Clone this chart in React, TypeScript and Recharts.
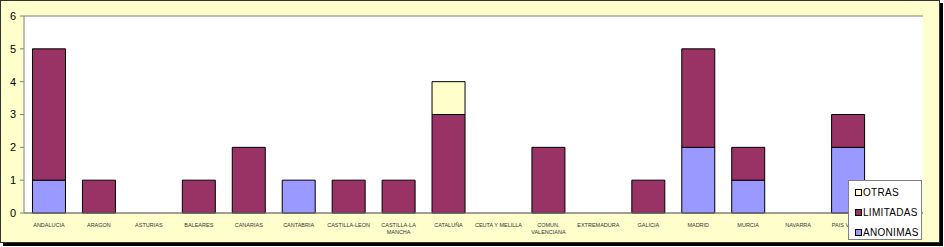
import React from "react";
import { BarChart, Bar, XAxis, YAxis, CartesianGrid, Legend } from "recharts";

const categories = [
  "ANDALUCIA", "ARAGON", "ASTURIAS", "BALEARES", "CANARIAS", "CANTABRIA",
  "CASTILLA-LEON", "CASTILLA-LA MANCHA", "CATALUÑA", "CEUTA Y MELILLA",
  "COMUN. VALENCIANA", "EXTREMADURA", "GALICIA", "MADRID", "MURCIA",
  "NAVARRA", "PAIS VASCO", "RIOJA",
];
const tickLabels = [
  ["ANDALUCIA"], ["ARAGON"], ["ASTURIAS"], ["BALEARES"], ["CANARIAS"], ["CANTABRIA"],
  ["CASTILLA-LEON"], ["CASTILLA-LA", "MANCHA"], ["CATALUÑA"], ["CEUTA Y MELILLA"],
  ["COMUN.", "VALENCIANA"], ["EXTREMADURA"], ["GALICIA"], ["MADRID"], ["MURCIA"],
  ["NAVARRA"], ["PAIS VASCO"], ["RIOJA"],
];
const anonimas = [1, 0, 0, 0, 0, 1, 0, 0, 0, 0, 0, 0, 0, 2, 1, 0, 2, 0];
const limitadas = [4, 1, 0, 1, 2, 0, 1, 1, 3, 0, 2, 0, 1, 3, 1, 0, 1, 0];
const otras = [0, 0, 0, 0, 0, 0, 0, 0, 1, 0, 0, 0, 0, 0, 0, 0, 0, 0];
const yTicks = [0, 1, 2, 3, 4, 5, 6];

const data = categories.map((c, i) => ({
  name: c,
  ANONIMAS: anonimas[i],
  LIMITADAS: limitadas[i],
  OTRAS: otras[i],
}));

const COLORS = { ANONIMAS: "#9999FF", LIMITADAS: "#993366", OTRAS: "#FFFFCC" };

const XTick = (props: any) => {
  const { x, y, index } = props;
  const lines = tickLabels[index] || [String(props.payload.value)];
  return (
    <g>
      {lines.map((l: string, k: number) => (
        <text
          key={k}
          x={x}
          y={y + 6 + k * 7}
          textAnchor="middle"
          fontSize={5.5}
          fontFamily="Arial, 'Liberation Sans', sans-serif"
          fill="#333"
        >
          {l}
        </text>
      ))}
    </g>
  );
};

const renderLegend = () => {
  const items = ["OTRAS", "LIMITADAS", "ANONIMAS"] as const;
  return (
    <div style={{ position: "relative", width: 0, height: 0, overflow: "visible" }}>
      <div
        style={{
          position: "absolute",
          left: 0,
          top: 0,
          width: 74,
          height: 60,
          boxSizing: "border-box",
          background: "#fff",
          border: "1px solid #808080",
          paddingTop: 1,
          fontFamily: "Arial, 'Liberation Sans', sans-serif",
          fontSize: 10,
          color: "#000",
        }}
      >
        {items.map((k) => (
          <div key={k} style={{ display: "flex", alignItems: "center", height: 20, paddingLeft: 6 }}>
            <span
              style={{
                display: "inline-block",
                width: 5,
                height: 5,
                background: COLORS[k],
                border: "1px solid #000",
                marginRight: 1,
              }}
            />
            <span style={{ letterSpacing: 0.3 }}>{k}</span>
          </div>
        ))}
      </div>
    </div>
  );
};

export default function App() {
  return (
    <div style={{ position: "absolute", left: 0, top: 0, width: 944, height: 247 }}>
      <div
        style={{
          position: "absolute",
          left: 0,
          top: 0,
          width: 940,
          height: 243,
          boxSizing: "border-box",
          background: "#FFFFCC",
          border: "1px solid #333",
          boxShadow: "3px 3px 0 #000",
        }}
      />
      <div style={{ position: "absolute", left: 0, top: 0 }}>
        <BarChart
          width={940}
          height={243}
          data={data}
          margin={{ top: 16, right: 17, left: 0, bottom: 0 }}
          barCategoryGap="17%"
        >
          <CartesianGrid vertical={false} stroke="#808080" fill="#ffffff" />
          <XAxis
            dataKey="name"
            axisLine={{ stroke: "#808080" }}
            tickLine={false}
            interval={0}
            height={30}
            tick={<XTick />}
          />
          <YAxis
            yAxisId="left"
            width={24}
            domain={[0, 6]}
            ticks={yTicks}
            interval={0}
            axisLine={{ stroke: "#808080" }}
            tickLine={{ stroke: "#808080" }}
            tickSize={4}
            tickMargin={4}
            tick={{ fontSize: 11, fill: "#000", fontFamily: "Arial, 'Liberation Sans', sans-serif" }}
          />
          <YAxis
            yAxisId="right"
            orientation="right"
            width={0}
            domain={[0, 6]}
            tick={false}
            tickLine={false}
            axisLine={{ stroke: "#808080" }}
          />
          <Legend
            content={renderLegend}
            wrapperStyle={{ position: "absolute", left: 848, top: 180, width: 0, height: 0 }}
          />
          <Bar yAxisId="left" dataKey="ANONIMAS" stackId="a" fill={COLORS.ANONIMAS} stroke="#000" strokeWidth={1} isAnimationActive={false} />
          <Bar yAxisId="left" dataKey="LIMITADAS" stackId="a" fill={COLORS.LIMITADAS} stroke="#000" strokeWidth={1} isAnimationActive={false} />
          <Bar yAxisId="left" dataKey="OTRAS" stackId="a" fill={COLORS.OTRAS} stroke="#000" strokeWidth={1} isAnimationActive={false} />
        </BarChart>
      </div>
    </div>
  );
}
